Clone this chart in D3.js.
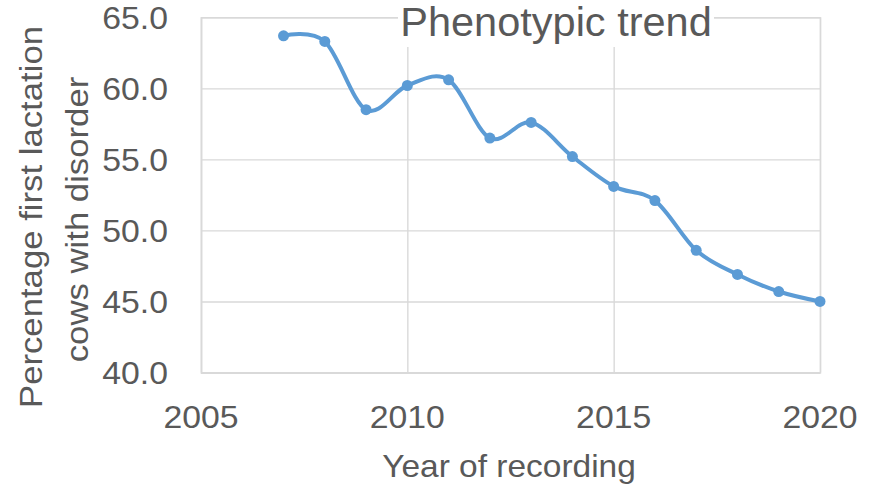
<!DOCTYPE html>
<html>
<head>
<meta charset="utf-8">
<script src="https://cdn.jsdelivr.net/npm/d3@7"></script>
<style>
  html, body { margin: 0; padding: 0; background: #fff; }
  svg { display: block; }
  text { font-family: "Liberation Sans", Arial, sans-serif; fill: #595959; }
</style>
</head>
<body>
<svg id="chart" width="873" height="485"></svg>
<script>
// Share of first-lactation cows with a recorded disorder, by year
const years = [2007, 2008, 2009, 2010, 2011, 2012, 2013, 2014, 2015, 2016, 2017, 2018, 2019, 2020];
const percentages = [63.7, 63.3, 58.5, 60.2, 60.6, 56.5, 57.6, 55.2, 53.1, 52.1, 48.6, 46.9, 45.7, 45.0];
const xTicks = [2005, 2010, 2015, 2020];
const yTicks = [40, 45, 50, 55, 60, 65];
const chartTitle = "Phenotypic trend";
const xTitle = "Year of recording";
const yTitleLines = ["Percentage first lactation", "cows with disorder"];

const svg = d3.select("#chart");
const plot = { left: 201, right: 820, top: 17.3, bottom: 372.5 };

const x = d3.scaleLinear().domain([2005, 2020]).range([plot.left, plot.right]);
const y = d3.scaleLinear().domain([40, 65]).range([plot.bottom, plot.top]);

const gridColor = "#d9d9d9";

// gridlines from the axes, with their own labels removed
const gx = svg.append("g")
  .attr("transform", `translate(0,${plot.bottom})`)
  .call(d3.axisBottom(x).tickValues(xTicks).tickSize(-(plot.bottom - plot.top)).tickFormat(""));
const gy = svg.append("g")
  .attr("transform", `translate(${plot.left},0)`)
  .call(d3.axisLeft(y).tickValues(yTicks).tickSize(-(plot.right - plot.left)).tickFormat(""));
[gx, gy].forEach(g => {
  g.select(".domain").attr("stroke", gridColor).attr("stroke-width", 1.4);
  g.selectAll(".tick line").attr("stroke", gridColor).attr("stroke-width", 1.4);
});

// text helper: slightly widened Arial-style glyphs
function label(parent, txt, px, py, opts) {
  const o = Object.assign({ size: 31, anchor: "middle", sx: 1.09, rotate: 0 }, opts || {});
  return parent.append("text")
    .attr("transform", `translate(${px},${py}) rotate(${o.rotate}) scale(${o.sx},1)`)
    .attr("text-anchor", o.anchor)
    .style("font-size", o.size + "px")
    .style("white-space", "pre")
    .text(txt);
}

// tick labels
const labels = svg.append("g");
yTicks.forEach(v => label(labels, d3.format(".1f")(v), 168, y(v) + 11.5, { anchor: "end" }));
xTicks.forEach(v => label(labels, String(v), x(v), plot.bottom + 55.5));

// axis titles
label(svg, xTitle, 509, 476.5, { sx: 1.08 });
label(svg, yTitleLines[0], 42, 217, { rotate: -90, sx: 1.12 });
label(svg, yTitleLines[1], 87.5, 219.5, { rotate: -90, sx: 1.12 });

// smoothed series line with markers
const pts = years.map((yr, i) => [yr, percentages[i]]);
const line = d3.line()
  .x(d => x(d[0]))
  .y(d => y(d[1]))
  .curve(d3.curveCardinal.tension(0));

const series = svg.append("g");
series.append("path")
  .datum(pts)
  .attr("d", line)
  .attr("fill", "none")
  .attr("stroke", "#5b9bd5")
  .attr("stroke-width", 4)
  .attr("stroke-linejoin", "round")
  .attr("stroke-linecap", "round");
series.selectAll("circle")
  .data(pts)
  .enter().append("circle")
  .attr("cx", d => x(d[0]))
  .attr("cy", d => y(d[1]))
  .attr("r", 5.5)
  .attr("fill", "#5b9bd5");

// chart title on a white box over the grid
svg.append("rect")
  .attr("x", 398).attr("y", 0)
  .attr("width", 316).attr("height", 47)
  .attr("fill", "#fff");
label(svg, chartTitle, 556, 36, { size: 40.5, sx: 1.025 });
</script>
</body>
</html>
